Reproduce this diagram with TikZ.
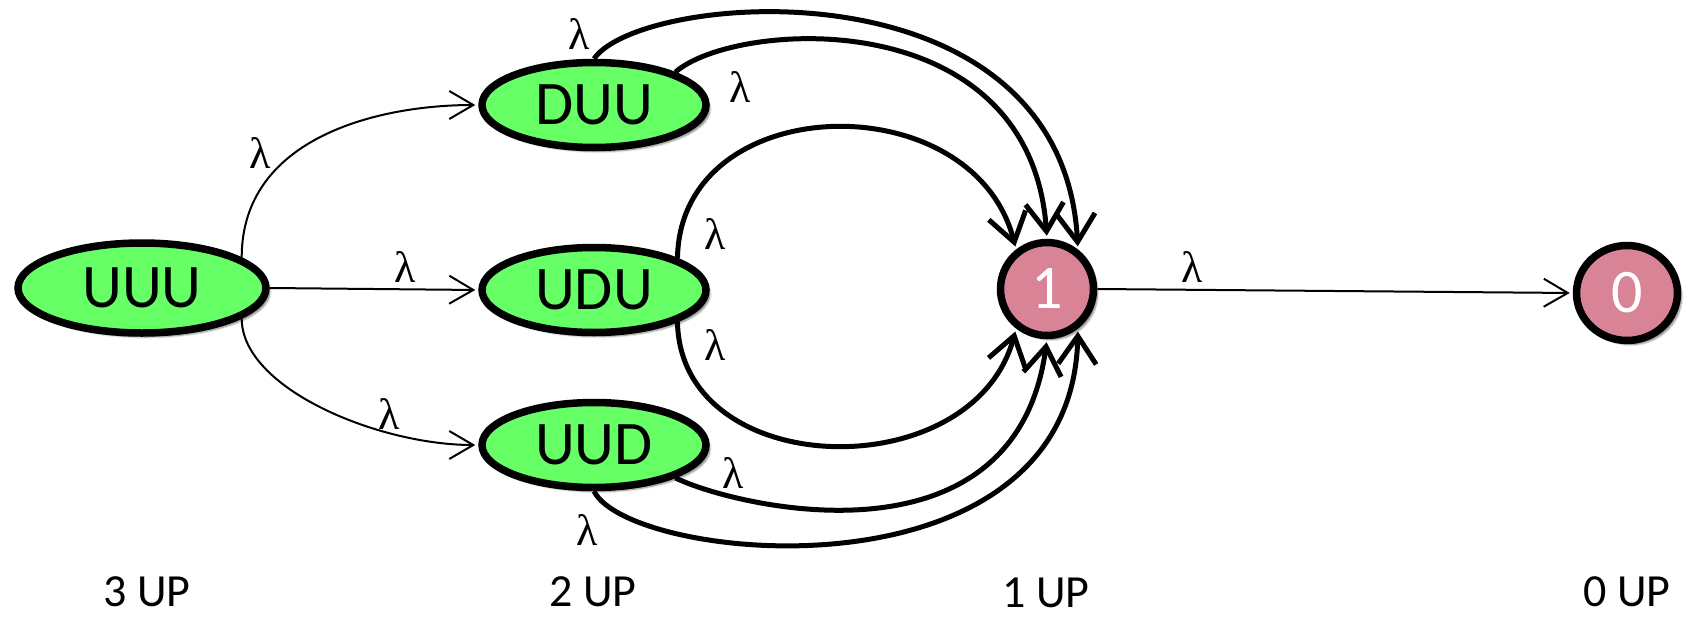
\documentclass[tikz,border=0pt]{standalone}
\usepackage{fontspec}
\setmainfont{Carlito}
\newfontfamily\lamfont{Liberation Serif}
\usetikzlibrary{arrows.meta,positioning,shapes.geometric,shadows.blur}
\definecolor{stategreen}{RGB}{102,255,102}
\definecolor{sinkpink}{RGB}{217,131,151}
\tikzset{
	>={Straight Barb[length=24pt,width=28pt]},
}

\begin{document}
\begin{tikzpicture}[
		x=1pt, y=-1pt,
		upstate/.style={
			ellipse, draw, line width=7.5pt, fill=stategreen,
			inner sep=0pt, minimum width=224pt, minimum height=85pt,
			font=\fontsize{62}{62}\selectfont,
			blur shadow={shadow xshift=4pt, shadow yshift=-4pt, shadow blur steps=6, shadow opacity=50},
		},
		sink/.style={upstate, fill=sinkpink, text=white, minimum width=93pt, minimum height=93pt},
		thinarc/.style={line width=2pt, ->, shorten >=3pt},
		thickarc/.style={line width=5pt, -{Straight Barb[length=28pt,width=38pt]}, shorten >=3pt},
		lbl/.style={font=\lamfont\fontsize{44}{44}\selectfont, inner sep=2pt},
		tier/.style={font=\fontsize{46}{46}\selectfont, anchor=base, inner sep=0pt},
	]
	\useasboundingbox (0,0) rectangle (1692,616);
	\draw
		node(uuu)[upstate, minimum width=248pt, minimum height=90pt] at (142,288) {UUU}
		node(duu)[upstate] at (594,105) {DUU}
		node(udu)[upstate] at (594,290) {UDU}
		node(uud)[upstate] at (594,445) {UUD}
		node(n1)[sink] at (1047,289) {1}
		node(n0)[sink, minimum width=101pt, minimum height=95pt] at (1627,293) {0}
	;
	\draw[thinarc] (uuu.17) .. controls +(0,-120) and +(-100,0) .. (duu.west)
		node(l1)[lbl, pos=.3, above left]{λ};
	\draw[thinarc] (uuu.east) -- (udu.west)
		node(l2)[lbl, pos=.65, above=4pt]{λ};
	\draw[thinarc] (uuu.-17) .. controls +(0,70) and +(-100,0) .. (uud.west)
		node(l3)[lbl, pos=.72, above]{λ};
	\draw[thickarc] (duu.north) .. controls +(47,-68) and +(-16,-292) .. (n1.52)
		node(l4)[lbl, pos=0, above left=5pt and 0pt]{λ};
	\draw[thickarc] (duu.22) .. controls +(59,-52) and +(-17,-238) .. (n1.north)
		node(l5)[lbl, pos=.12, below right=12pt and 19pt]{λ};
	\draw[thickarc] (udu.21) .. controls +(3,-169) and +(-43,-167) .. (n1.128)
		node(l6)[lbl, pos=.05, right=20pt]{λ};
	\draw[thickarc] (udu.-21) .. controls +(3,160) and +(-43,160) .. (n1.-128)
		node(l7)[lbl, pos=.05, right=20pt]{λ};
	\draw[thickarc] (uud.-22) .. controls +(59,29) and +(-32,235) .. (n1.south)
		node(l8)[lbl, pos=.2, above=4pt]{λ};
	\draw[thickarc] (uud.south) .. controls +(36,72) and +(-6,278) .. (n1.-52)
		node(l9)[lbl, pos=.05, below left=8pt and 0pt]{λ};
	\draw[thinarc] (n1.east) -- (n0.west)
		node(l10)[lbl, pos=.2, above=4pt]{λ};
	\node(up3)[tier] at (147,606) {3 UP};
	\node(up2)[tier] at (593,606) {2 UP};
	\node(up1)[tier] at (1046,607) {1 UP};
	\node(up0)[tier] at (1627,606) {0 UP};
\end{tikzpicture}
\end{document}
